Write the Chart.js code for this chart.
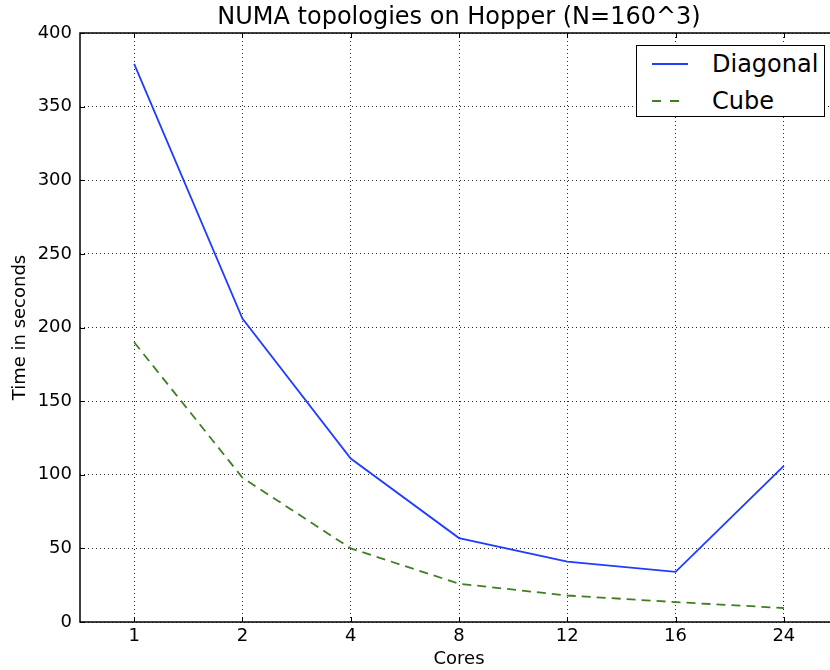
<!DOCTYPE html>
<html>
<head>
<meta charset="utf-8">
<script src="https://cdn.jsdelivr.net/npm/chart.js@4/dist/chart.umd.min.js"></script>
<style>
  html, body { margin: 0; padding: 0; background: #fff; overflow: hidden; }
  #wrap { position: relative; width: 830px; height: 670px; overflow: hidden; }
  #title {
    position: absolute; left: 80px; top: 2px; width: 758px; text-align: center;
    font-family: "DejaVu Sans", sans-serif; font-size: 24px; line-height: 29px; color: #000;
  }
  #legend {
    position: absolute; left: 636px; top: 45px; width: 187px; height: 70px;
    border: 1.5px solid #000; background: #fff;
    font-family: "DejaVu Sans", sans-serif; font-size: 24px; color: #000;
  }
  .row { position: absolute; left: 0; height: 30px; line-height: 30px; }
  .row .sample { position: absolute; left: 15px; top: 14px; width: 36px; height: 2px; }
  .row .txt { position: absolute; left: 75px; top: 0; white-space: nowrap; }
</style>
</head>
<body>
<div id="wrap">
  <canvas id="chart" width="840" height="670"></canvas>
  <div id="title">NUMA topologies on Hopper (N=160^3)</div>
  <div id="legend">
    <div class="row" style="top:3px">
      <div class="sample" style="background:#1f3cff"></div>
      <span class="txt">Diagonal</span>
    </div>
    <div class="row" style="top:40px">
      <div class="sample" style="background:repeating-linear-gradient(to right,#3f7f22 0 9px,transparent 9px 18px)"></div>
      <span class="txt">Cube</span>
    </div>
  </div>
</div>
<script>
const cores = ["1", "2", "4", "8", "12", "16", "24"];
const diagonal = [379, 206, 111, 57, 41, 34, 106];
const cube = [190, 98, 50, 26, 18, 13.5, 9.5];

// frame + inward ticks like matplotlib
const framePlugin = {
  id: "frame",
  afterDraw(chart) {
    const { ctx, chartArea: a, scales } = chart;
    ctx.save();
    ctx.strokeStyle = "#000";
    ctx.lineWidth = 1;
    ctx.beginPath();
    scales.x.ticks.forEach((t, i) => {
      const x = Math.round(scales.x.getPixelForTick(i)) + 0.5;
      ctx.moveTo(x, a.bottom); ctx.lineTo(x, a.bottom - 5);
      ctx.moveTo(x, a.top); ctx.lineTo(x, a.top + 5);
    });
    scales.y.ticks.forEach((t, i) => {
      const y = Math.round(scales.y.getPixelForTick(i)) + 0.5;
      ctx.moveTo(a.left, y); ctx.lineTo(a.left + 5, y);
      ctx.moveTo(a.right, y); ctx.lineTo(a.right - 5, y);
    });
    ctx.stroke();
    ctx.lineWidth = 1.5;
    ctx.strokeRect(a.left, a.top, a.right - a.left, a.bottom - a.top);
    ctx.restore();
  },
};

new Chart(document.getElementById("chart"), {
  type: "line",
  data: {
    labels: cores,
    datasets: [
      {
        label: "Diagonal",
        data: diagonal,
        borderColor: "#1f3cff",
        borderWidth: 1.8,
        pointRadius: 0,
        tension: 0,
        fill: false,
      },
      {
        label: "Cube",
        data: cube,
        borderColor: "#3f7f22",
        borderWidth: 1.8,
        borderDash: [9, 6],
        pointRadius: 0,
        tension: 0,
        fill: false,
      },
    ],
  },
  options: {
    responsive: false,
    animation: false,
    layout: { padding: { left: 0, right: 2, top: 33, bottom: 0 } },
    plugins: {
      legend: { display: false },
      tooltip: { enabled: false },
      title: { display: false },
    },
    scales: {
      x: {
        type: "category",
        offset: true,
        grid: { color: "rgba(0,0,0,0.85)", lineWidth: 1, drawTicks: false },
        border: { display: false, dash: [1, 3] },
        ticks: {
          color: "#000",
          padding: 4,
          font: { family: "DejaVu Sans", size: 18 },
          maxRotation: 0,
        },
        title: {
          display: true,
          text: "Cores",
          color: "#000",
          font: { family: "DejaVu Sans", size: 18 },
          padding: { top: 2, bottom: 0 },
        },
        afterFit(scale) { scale.height = 48; },
      },
      y: {
        min: 0,
        max: 400,
        grid: { color: "rgba(0,0,0,0.85)", lineWidth: 1, drawTicks: false },
        border: { display: false, dash: [1, 3] },
        ticks: {
          stepSize: 50,
          color: "#000",
          padding: 8,
          font: { family: "DejaVu Sans", size: 18 },
        },
        title: {
          display: true,
          text: "Time in seconds",
          color: "#000",
          font: { family: "DejaVu Sans", size: 18 },
          padding: { top: 10, bottom: 0 },
        },
        afterFit(scale) { scale.width = 80; },
      },
    },
  },
  plugins: [framePlugin],
});
</script>
</body>
</html>
